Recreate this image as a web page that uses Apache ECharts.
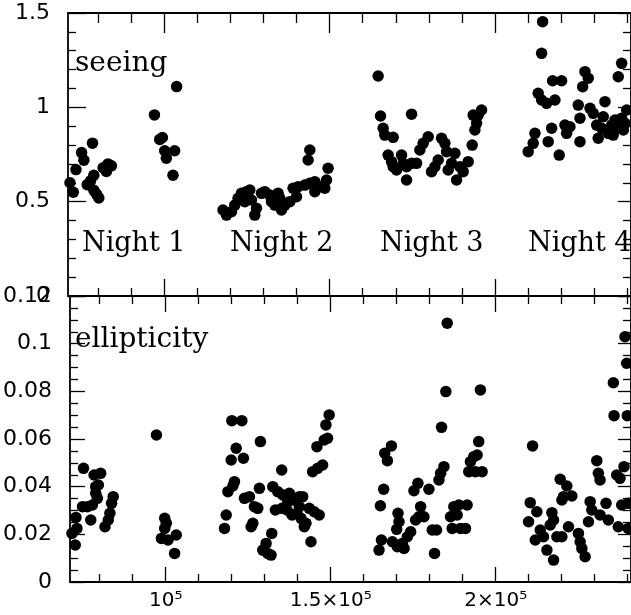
<!DOCTYPE html>
<html>
<head>
<meta charset="utf-8">
<script src="https://cdn.jsdelivr.net/npm/echarts@6/dist/echarts.min.js"></script>
<style>
  html, body { margin: 0; padding: 0; background: #fff; }
  #chart { width: 631px; height: 615px; }
</style>
</head>
<body>
<div id="chart"></div>
<script>
// x ticks
const xMajor = [100000, 150000, 200000];
const xMajorLabels = ['10⁵', '1.5×10⁵', '2×10⁵'];
const xMinor = [80000, 90000, 110000, 120000, 130000, 140000, 160000, 170000, 180000, 190000, 210000, 220000, 230000, 240000];

const nightLabels = ['Night 1', 'Night 2', 'Night 3', 'Night 4'];

// seeing, per night  [x, seeing]
const seeingN1 = [
  [71600, 0.60], [72600, 0.55], [73400, 0.67], [75100, 0.76], [75800, 0.72], [78400, 0.81],
  [76800, 0.59], [77800, 0.61], [78800, 0.64], [78800, 0.56], [80300, 0.52], [81600, 0.68],
  [83100, 0.70], [84100, 0.69], [82600, 0.66], [79600, 0.54],
  [97100, 0.96], [99500, 0.84], [98700, 0.83], [100200, 0.77], [100700, 0.73], [103200, 0.77],
  [102700, 0.64], [103800, 1.11]
];
const seeingN2 = [
  [117800, 0.456], [118850, 0.429], [120360, 0.447], [121360, 0.482], [122360, 0.518], [123380, 0.544],
  [124890, 0.553], [125890, 0.562], [124380, 0.500], [126400, 0.509], [127400, 0.429], [127910, 0.465],
  [129420, 0.544], [130420, 0.553], [131930, 0.535], [132450, 0.500], [133440, 0.482], [134440, 0.544],
  [134950, 0.518], [135470, 0.456], [136460, 0.482], [137970, 0.500], [138970, 0.571], [140000, 0.526],
  [140480, 0.579], [142500, 0.588], [144020, 0.597], [145530, 0.606], [145530, 0.553], [147040, 0.579],
  [148550, 0.571], [149060, 0.615], [149540, 0.677], [144020, 0.774], [143500, 0.721]
];
const seeingN3 = [
  [164650, 1.166], [165370, 0.954], [174740, 0.964], [166160, 0.889], [166670, 0.853], [169180, 0.841],
  [167670, 0.747], [168700, 0.712], [169180, 0.685], [170200, 0.668], [171720, 0.747], [172200, 0.703],
  [173230, 0.685], [173230, 0.615], [174740, 0.703], [176250, 0.703], [177250, 0.774], [178250, 0.809],
  [179760, 0.844], [180770, 0.659], [181780, 0.685], [182780, 0.721], [183800, 0.836], [184800, 0.809],
  [185310, 0.765], [185800, 0.668], [186820, 0.703], [187820, 0.756], [188330, 0.615], [189330, 0.685],
  [190330, 0.659], [191840, 0.712], [193050, 0.800], [193860, 0.880], [193350, 0.959], [194860, 0.959],
  [195880, 0.986], [194380, 0.915]
];
const seeingN4 = [
  [214310, 1.454], [214010, 1.286], [209960, 0.765], [211470, 0.809], [211990, 0.862], [212980, 1.074],
  [214010, 1.039], [215520, 1.021], [217330, 1.141], [220050, 1.141], [218030, 1.039], [217030, 0.889],
  [216000, 0.818], [219330, 0.747], [221050, 0.906], [222560, 0.897], [221560, 0.862], [225070, 1.012],
  [225590, 0.818], [225590, 0.942], [227100, 1.189], [228090, 1.154], [226400, 1.109], [228620, 0.995],
  [229600, 0.968], [230630, 0.906], [232140, 0.889], [232620, 0.950], [233140, 1.030], [231100, 0.836],
  [234130, 0.862], [235160, 0.906], [236150, 0.933], [237150, 1.162], [238180, 1.233], [236670, 0.889],
  [238180, 0.942], [239170, 0.915], [239700, 0.986], [238700, 0.880], [235630, 0.853]
];

// ellipticity, per night  [x, ellipticity]
const ellipN1 = [
  [71600, 0.0204], [72600, 0.0155], [73100, 0.0225], [72800, 0.0271], [75100, 0.0477], [74800, 0.0316],
  [76300, 0.0316], [77800, 0.0323], [77300, 0.0260], [78300, 0.0449], [80300, 0.0456], [78800, 0.0372],
  [79300, 0.0351], [78800, 0.0400], [79600, 0.0407], [81600, 0.0232], [82600, 0.0260], [83100, 0.0288],
  [83600, 0.0330], [84100, 0.0358],
  [97200, 0.0617], [99700, 0.0267], [100200, 0.0246], [99700, 0.0225], [98700, 0.0183], [100700, 0.0176],
  [103200, 0.0197], [102700, 0.0120]
];
const ellipN2 = [
  [120060, 0.0677], [123080, 0.0677], [128700, 0.0589], [121360, 0.0561], [123560, 0.0519], [119850, 0.0512],
  [120840, 0.0421], [118850, 0.0379], [120360, 0.0403], [118340, 0.0281], [117820, 0.0225], [123870, 0.0351],
  [125380, 0.0358], [126890, 0.0316], [127910, 0.0309], [128400, 0.0393], [126400, 0.0246], [125890, 0.0232],
  [132140, 0.0204], [130420, 0.0162], [129420, 0.0134], [130930, 0.0120], [131930, 0.0113], [135160, 0.0470],
  [132450, 0.0400], [133960, 0.0379], [135470, 0.0365], [137460, 0.0372], [136980, 0.0337], [138490, 0.0344],
  [140480, 0.0358], [141510, 0.0358], [133230, 0.0302], [135250, 0.0309], [136760, 0.0302], [138270, 0.0281],
  [139780, 0.0288], [140480, 0.0316], [141000, 0.0267], [142500, 0.0246], [143500, 0.0309], [145010, 0.0295],
  [146520, 0.0281], [142000, 0.0232], [144020, 0.0169], [144530, 0.0463], [146040, 0.0477], [147550, 0.0491],
  [145830, 0.0568], [148030, 0.0596], [149060, 0.0603], [148550, 0.0659], [149540, 0.0701]
];
const ellipN3 = [
  [185310, 0.1086], [184890, 0.0799], [183590, 0.0649], [168400, 0.0571], [166370, 0.0540], [167180, 0.0509],
  [184310, 0.0484], [183310, 0.0456], [182800, 0.0428], [176430, 0.0414], [175230, 0.0383], [179760, 0.0389],
  [166060, 0.0389], [165060, 0.0320], [177250, 0.0316], [176730, 0.0274], [178250, 0.0274], [175740, 0.0260],
  [170400, 0.0288], [170700, 0.0253], [170000, 0.0221], [174230, 0.0211], [173230, 0.0190], [171720, 0.0162],
  [170200, 0.0148], [168700, 0.0169], [165370, 0.0176], [164650, 0.0134], [172220, 0.0141], [180770, 0.0218],
  [182080, 0.0218], [181470, 0.0120],
  [195370, 0.0806], [194860, 0.0589], [193350, 0.0526], [194380, 0.0533], [192350, 0.0505], [191840, 0.0463],
  [193860, 0.0463], [195880, 0.0463], [187310, 0.0316], [188820, 0.0323], [191350, 0.0323], [186310, 0.0274],
  [188330, 0.0281], [186820, 0.0225], [189330, 0.0225], [190840, 0.0225]
];
const ellipN4 = [
  [211180, 0.0571], [230630, 0.0509], [219540, 0.0431], [221560, 0.0403], [220540, 0.0358], [223080, 0.0361],
  [220050, 0.0344], [231110, 0.0456], [231620, 0.0428], [236670, 0.0449], [238880, 0.0484], [237670, 0.0435],
  [235650, 0.0836], [239670, 0.0918], [239170, 0.1029], [235860, 0.0698], [239880, 0.0698], [210460, 0.0333],
  [212470, 0.0295], [209960, 0.0253], [217030, 0.0291], [217540, 0.0260], [216520, 0.0239], [213500, 0.0218],
  [211990, 0.0176], [214500, 0.0190], [215520, 0.0134], [217540, 0.0092], [218540, 0.0190], [220050, 0.0190],
  [222060, 0.0232], [225070, 0.0204], [225590, 0.0169], [226100, 0.0141], [227100, 0.0106], [228620, 0.0337],
  [229120, 0.0302], [228120, 0.0253], [231620, 0.0281], [233430, 0.0330], [234130, 0.0260], [237150, 0.0232],
  [238180, 0.0323], [240170, 0.0330], [240170, 0.0225]
];

const XMIN = 71000, XMAX = 241000;
const black = '#000';
const tickFont = 'DejaVu Sans';
const textFont = '"DejaVu Serif"';

function xAxis(grid, position, values, len, showLine, labels) {
  return {
    type: 'value', gridIndex: grid, position: position, min: XMIN, max: XMAX,
    axisLine: { show: showLine, lineStyle: { color: black, width: 1.8 } },
    axisTick: { show: true, inside: true, length: len, customValues: values, lineStyle: { color: black, width: 1.3 } },
    axisLabel: labels ? {
      show: true, customValues: values, margin: 9, color: black, fontSize: 20, fontFamily: tickFont,
      formatter: v => labels[values.indexOf(v)]
    } : { show: false },
    splitLine: { show: false }
  };
}

function yAxis(grid, position, max, interval, minorSplit, len, showLabel) {
  return {
    type: 'value', gridIndex: grid, position: position, min: 0, max: max, interval: interval,
    axisLine: { show: true, lineStyle: { color: black, width: 1.8 } },
    axisTick: { show: true, inside: true, length: len, lineStyle: { color: black, width: 1.3 } },
    minorTick: { show: true, splitNumber: minorSplit, length: 8, lineStyle: { color: black, width: 1.3 } },
    axisLabel: { show: showLabel, margin: 18, color: black, fontSize: 22, fontFamily: tickFont },
    splitLine: { show: false }
  };
}

function dots(data, xi, yi) {
  return {
    type: 'scatter', data: data, xAxisIndex: xi, yAxisIndex: yi,
    symbol: 'circle', symbolSize: 11.5,
    itemStyle: { color: black, opacity: 1 }, silent: true
  };
}

const chart = echarts.init(document.getElementById('chart'));
chart.setOption({
  backgroundColor: '#fff',
  animation: false,
  grid: [
    { left: 68, right: 0, top: 13, height: 283 },
    { left: 68, right: 0, top: 296, height: 286 }
  ],
  xAxis: [
    xAxis(0, 'bottom', xMajor, 17, true),
    xAxis(0, 'bottom', xMinor, 8, false),
    xAxis(0, 'top', xMajor, 20, true),
    xAxis(0, 'top', xMinor, 10, false),
    xAxis(1, 'bottom', xMajor, 15, true, xMajorLabels),
    xAxis(1, 'bottom', xMinor, 8, false),
    xAxis(1, 'top', xMajor, 16, true),
    xAxis(1, 'top', xMinor, 8, false)
  ],
  yAxis: [
    yAxis(0, 'left', 1.5, 0.5, 5, 18, true),
    yAxis(0, 'right', 1.5, 0.5, 5, 13, false),
    yAxis(1, 'left', 0.12, 0.02, 4, 15, true),
    yAxis(1, 'right', 0.12, 0.02, 4, 13, false)
  ],
  graphic: [
    { type: 'text', left: 75, top: 50, style: { text: 'seeing', font: '28px ' + textFont, fill: black } },
    { type: 'text', left: 75, top: 326, style: { text: 'ellipticity', font: '28px ' + textFont, fill: black } },
    { type: 'text', left: 82, top: 230, style: { text: nightLabels[0], font: '27px ' + textFont, fill: black } },
    { type: 'text', left: 230, top: 230, style: { text: nightLabels[1], font: '27px ' + textFont, fill: black } },
    { type: 'text', left: 380, top: 230, style: { text: nightLabels[2], font: '27px ' + textFont, fill: black } },
    { type: 'text', left: 528, top: 230, style: { text: nightLabels[3], font: '27px ' + textFont, fill: black } }
  ],
  series: [
    dots(seeingN1, 0, 0), dots(seeingN2, 0, 0), dots(seeingN3, 0, 0), dots(seeingN4, 0, 0),
    dots(ellipN1, 4, 2), dots(ellipN2, 4, 2), dots(ellipN3, 4, 2), dots(ellipN4, 4, 2)
  ]
});
</script>
</body>
</html>
